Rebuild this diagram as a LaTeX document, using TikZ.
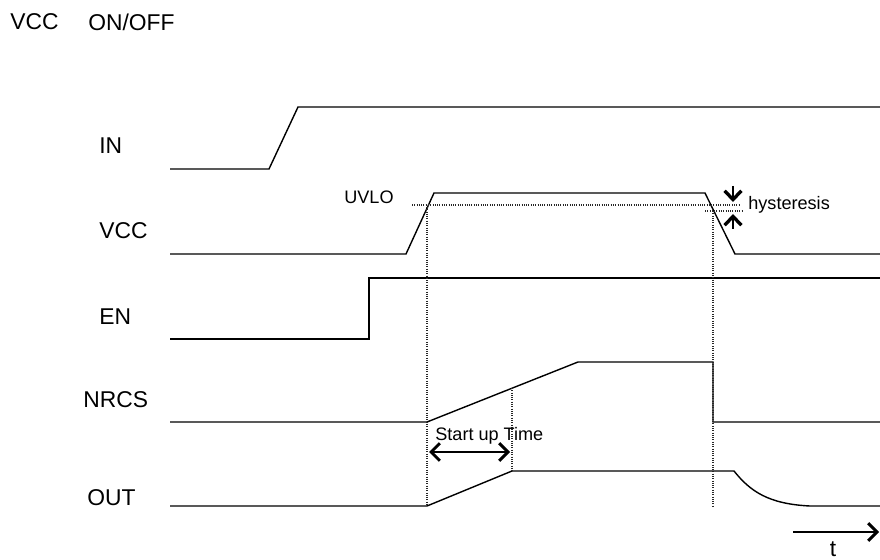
\documentclass[tikz,border=0pt]{standalone}
\usepackage{fontspec}
\setmainfont{Liberation Sans}
\usetikzlibrary{arrows.meta}
\definecolor{inkc}{RGB}{0,0,0}
\definecolor{dotc}{RGB}{40,40,40}
\tikzset{
  wave/.style={line width=0.8pt, draw=inkc, line join=miter},
  guide/.style={line width=0.6pt, draw=dotc, dash pattern=on 0.55pt off 0.75pt},
  signame/.style={font=\fontsize{13}{15}\selectfont, text=inkc, anchor=west, inner sep=0pt},
  tag/.style={font=\fontsize{10.3}{12}\selectfont, text=inkc, anchor=west, inner sep=0pt},
  barb/.style={-{Straight Barb[length=5pt, width=10pt, line width=1.7pt]}, line width=1.3pt, draw=inkc},
  dbarb/.style={{Straight Barb[length=5pt, width=10pt, line width=1.7pt]}-{Straight Barb[length=5pt, width=10pt, line width=1.7pt]},
                line width=1.3pt, draw=inkc},
  hyst/.style={-{Straight Barb[length=5pt, width=9.5pt, line width=1.9pt]}, line width=1.4pt, draw=inkc},
}

\begin{document}
\begin{tikzpicture}[x=0.02cm, y=-0.02cm]

  \useasboundingbox (0,0) rectangle (880,560);

  % title
  \node[signame] (ttl1) at (10,22) {VCC};
  \node[signame] (ttl2) at (88,22) {ON/OFF};

  % signal names
  \foreach \nm/\xx/\yy in {IN/99/146, VCC/99/231, EN/99/317, NRCS/83/400, OUT/87/498} {
    \node[signame] (n\nm) at (\xx,\yy) {\nm};
  }

  % waveforms
  \draw[wave] (170,169) -- (269,169) -- (298,107) -- (880,107);
  \draw[wave] (170,254) -- (406,254) -- (434,193) -- (705,193) -- (735,254) -- (880,254);
  \draw[wave] (170,339) -- (369,339) -- (369,278) -- (880,278);
  \draw[wave] (170,422) -- (427,422) -- (578,362) -- (713,362) -- (713,422) -- (880,422);
  \draw[wave] (170,506) -- (427,506) -- (512,471) -- (734,471)
    .. controls (750,491) and (768,504) .. (810,506) -- (880,506);

  % threshold levels
  \draw[guide] (412,205) -- (740,205);
  \draw[guide] (705,211) -- (742,211);

  % timing guides
  \draw[guide] (427,207) -- (427,506);
  \draw[guide] (512,388) -- (512,471);
  \draw[guide] (713,211) -- (713,506);

  \node[tag] (uvlo) at (344,197) {UVLO};
  \node[tag] (hys) at (748,205) {hysteresis};
  \node[tag] (sut) at (435,436) {Start up Time};

  % hysteresis marks
  \coordinate (hd0) at (733,186);
  \coordinate (hd1) at (733,202);
  \coordinate (hu0) at (733,229);
  \coordinate (hu1) at (733,214);
  \draw[hyst] (hd0) -- (hd1);
  \draw[hyst] (hu0) -- (hu1);

  % start up time span
  \coordinate (sa) at (429,452);
  \coordinate (sb) at (510,452);
  \draw[dbarb] (sa) -- (sb);

  % time axis
  \coordinate (t0) at (793,532);
  \coordinate (t1) at (879,532);
  \draw[barb] (t0) -- (t1);
  \node[font=\fontsize{13}{15}\selectfont, inner sep=0pt] (tlab) at (833,549) {t};

\end{tikzpicture}
\end{document}
